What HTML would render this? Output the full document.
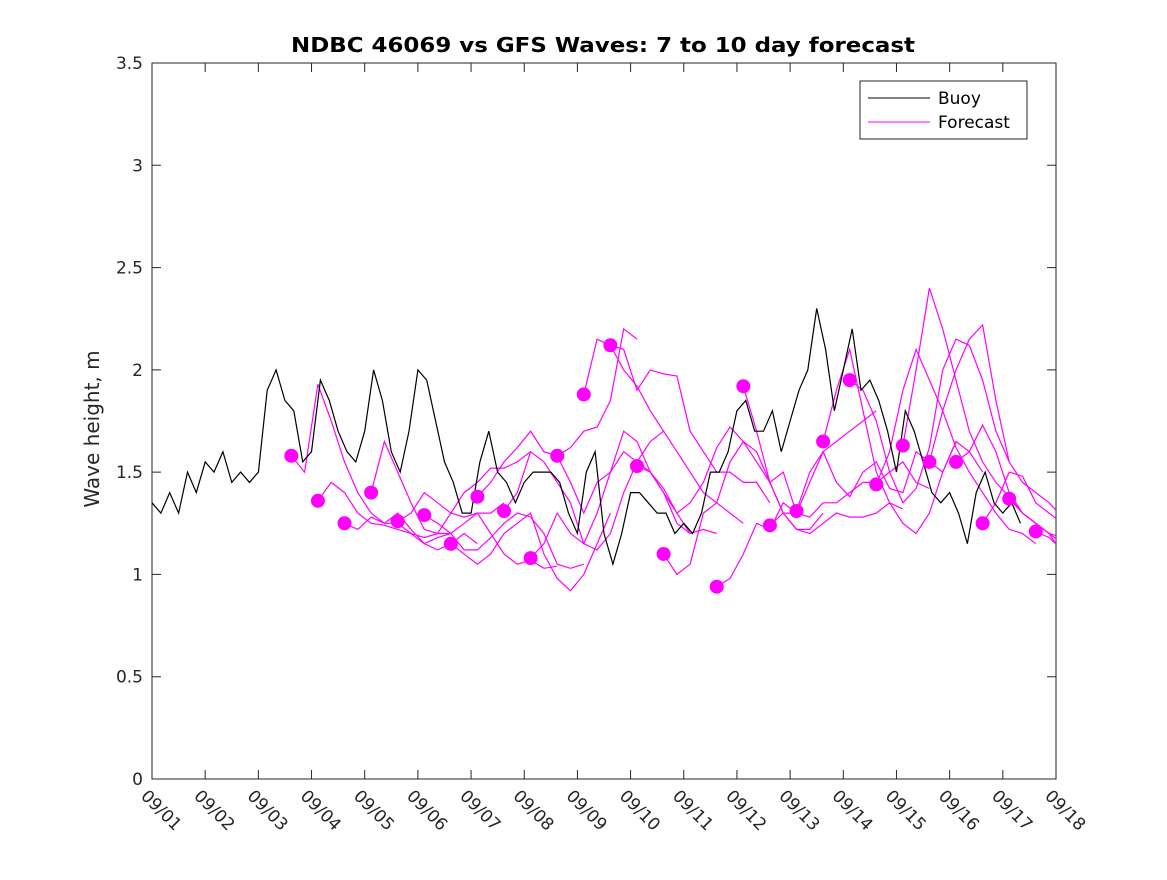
<!DOCTYPE html>
<html><head><meta charset="utf-8"><style>
body{margin:0;background:#fff}
svg{font-family:"DejaVu Sans","Liberation Sans",sans-serif}
</style></head><body>
<svg id="chart" width="1167" height="875" viewBox="0 0 1167 875" xmlns="http://www.w3.org/2000/svg">
<rect width="1167" height="875" fill="#fff"/>
<text x="603" y="52" text-anchor="middle" font-size="20" font-weight="bold" textLength="624" lengthAdjust="spacingAndGlyphs">NDBC 46069 vs GFS Waves: 7 to 10 day forecast</text>
<text transform="translate(99,429) rotate(-90)" text-anchor="middle" font-size="20" fill="#262626">Wave height, m</text>
<defs><clipPath id="plotclip"><rect x="152" y="63" width="904" height="716"/></clipPath></defs>
<g id="axes"></g>
<g id="series" clip-path="url(#plotclip)"></g>
<g>
<rect x="860" y="81" width="167" height="58" fill="#fff" stroke="#262626" stroke-width="1"/>
<line x1="868" y1="98" x2="930" y2="98" stroke="#000"/>
<text x="938" y="104" font-size="17">Buoy</text>
<line x1="868" y1="122" x2="930" y2="122" stroke="#f0f"/>
<text x="938" y="128" font-size="17">Forecast</text>
</g>
</svg>
<script>
const xTickLabels=["09/01","09/02","09/03","09/04","09/05","09/06","09/07","09/08","09/09","09/10","09/11","09/12","09/13","09/14","09/15","09/16","09/17","09/18"];
const yTicks=[0,0.5,1,1.5,2,2.5,3,3.5];
const yTickLabels=["0","0.5","1","1.5","2","2.5","3","3.5"];
// buoy values every 4 hours starting 09/01 00:00
const buoyStepDays=1/6;
const buoyValues=[1.35,1.3,1.4,1.3,1.5,1.4,1.55,1.5,1.6,1.45,1.5,1.45,1.5,1.9,2.0,1.85,1.8,1.55,1.6,1.95,1.85,1.7,1.6,1.55,1.7,2.0,1.85,1.6,1.5,1.7,2.0,1.95,1.75,1.55,1.45,1.3,1.3,1.55,1.7,1.5,1.45,1.35,1.45,1.5,1.5,1.5,1.45,1.3,1.2,1.5,1.6,1.2,1.05,1.2,1.4,1.4,1.35,1.3,1.3,1.2,1.25,1.2,1.3,1.5,1.5,1.6,1.8,1.85,1.7,1.7,1.8,1.6,1.75,1.9,2.0,2.3,2.1,1.8,2.0,2.2,1.9,1.95,1.85,1.7,1.5,1.8,1.7,1.55,1.4,1.35,1.4,1.3,1.15,1.4,1.5,1.35,1.3,1.35,1.25];
// forecast start times (days since 09/01) and 6-hourly values
const forecastStartDay=2.62;
const forecastSpacing=0.5;
const forecastStepDays=0.25;
const forecasts=[
[1.58,1.5,1.93,1.75,1.55,1.4,1.3,1.25,1.25,1.2,1.18,1.2,1.2],
[1.36,1.45,1.4,1.3,1.25,1.24,1.22,1.2,1.15,1.12,1.15,1.2,1.15],
[1.25,1.22,1.28,1.25,1.3,1.22,1.15,1.18,1.2,1.25,1.3,1.3,1.35],
[1.40,1.65,1.5,1.35,1.22,1.2,1.3,1.4,1.45,1.52,1.52,1.55,1.6],
[1.26,1.3,1.4,1.35,1.3,1.28,1.3,1.2,1.1,1.05,1.07,1.03,1.04],
[1.29,1.25,1.2,1.12,1.12,1.18,1.25,1.3,1.28,1.2,1.05,1.03,1.05],
[1.15,1.1,1.05,1.1,1.2,1.25,1.3,1.1,0.98,0.92,1.0,1.15,1.3],
[1.38,1.45,1.55,1.62,1.7,1.6,1.58,1.62,1.7,1.72,1.85,2.2,2.15],
[1.31,1.4,1.6,1.55,1.45,1.35,1.15,1.12,1.2,1.4,1.55,1.65,1.7],
[1.08,1.15,1.3,1.2,1.15,1.3,1.5,1.7,1.65,1.5,1.4,1.3,1.2],
[1.58,1.45,1.3,1.45,1.5,1.6,1.55,1.5,1.4,1.25,1.2,1.22,1.2],
[1.88,2.15,2.12,2.0,1.92,1.8,1.7,1.6,1.5,1.4,1.35,1.3,1.25],
[2.12,2.1,1.9,2.0,1.98,1.97,1.7,1.6,1.5,1.5,1.45,1.45,1.35],
[1.53,1.5,1.42,1.3,1.35,1.45,1.62,1.72,1.65,1.55,1.45,1.5,1.3],
[1.10,1.0,1.05,1.3,1.35,1.55,1.65,1.6,1.45,1.3,1.22,1.22,1.3],
null,
[0.94,0.98,1.1,1.25,1.22,1.35,1.3,1.45,1.6,1.65,1.7,1.75,1.8],
[1.92,1.7,1.45,1.3,1.22,1.2,1.25,1.3,1.28,1.28,1.3,1.35,1.32],
[1.24,1.3,1.3,1.28,1.35,1.35,1.4,1.45,1.45,1.5,1.55,1.45,1.42],
[1.31,1.5,1.6,1.45,1.38,1.5,1.55,1.42,1.4,1.6,1.55,1.5,1.65],
[1.65,1.9,2.1,1.8,1.5,1.35,1.25,1.2,1.3,1.5,1.65,1.6,1.5],
[1.95,1.9,1.75,1.5,1.35,1.42,1.62,2.0,2.15,2.12,1.95,1.7,1.55],
[1.44,1.6,1.9,2.1,1.95,1.8,1.62,1.5,1.4,1.3,1.22,1.2,1.15],
[1.63,2.0,2.4,2.2,1.95,1.7,1.55,1.45,1.38,1.3,1.25,1.2,1.15],
[1.55,1.8,2.0,2.15,2.22,1.85,1.55,1.45,1.4,1.35,1.28,1.22,1.12],
[1.55,1.6,1.73,1.6,1.4,1.3,1.25,1.2,1.18,1.15,1.12,1.1,1.08],
[1.25,1.35,1.5,1.48,1.35,1.3,1.25,1.15,1.1,1.08,1.1,1.08,1.07],
[1.37,1.3,1.25,1.2,1.1,1.08],
[1.21,1.18,1.12,1.1]
];
const X0=152,X1=1056,Y0=779,Y1=63;
const xs=d=>X0+(X1-X0)*d/17;
const ys=v=>Y0-(Y0-Y1)*v/3.5;
const NS="http://www.w3.org/2000/svg";
function mk(tag,parent){const e=document.createElementNS(NS,tag);parent.appendChild(e);return e;}
const axes=document.getElementById('axes');
const series=document.getElementById('series');
const frame=mk('rect',axes);


frame.setAttribute('x',X0);frame.setAttribute('y',Y1);frame.setAttribute('width',X1-X0);frame.setAttribute('height',Y0-Y1);
frame.setAttribute('fill','none');frame.setAttribute('stroke','#262626');
yTicks.forEach((v,i)=>{
 const y=ys(v);
 const t=mk('path',axes);
 
 
 t.setAttribute('d',`M${X0} ${y}h9M${X1} ${y}h-9`);t.setAttribute('stroke','#262626');
 const l=mk('text',axes);
 
 
 l.setAttribute('x',X0-9);l.setAttribute('y',y+6);l.setAttribute('text-anchor','end');l.setAttribute('font-size','17');l.setAttribute('fill','#262626');
 l.textContent=yTickLabels[i];
});
xTickLabels.forEach((s,i)=>{
 const x=xs(i);
 const t=mk('path',axes);
 
 
 t.setAttribute('d',`M${x} ${Y0}v-9M${x} ${Y1}v9`);t.setAttribute('stroke','#262626');
 const l=mk('text',axes);
 
 
 l.setAttribute('transform',`translate(${x-12},${Y0+18}) rotate(45)`);l.setAttribute('font-size','17');l.setAttribute('fill','#262626');
 l.textContent=s;
});
forecasts.forEach((f,k)=>{
 if(!f)return;
 const d0=forecastStartDay+k*forecastSpacing;
 const p=mk('polyline',series);
 
 
 p.setAttribute('points',f.map((v,j)=>xs(d0+j*forecastStepDays).toFixed(1)+','+ys(v).toFixed(1)).join(' '));
 p.setAttribute('fill','none');p.setAttribute('stroke','#f0f');p.setAttribute('stroke-width','1.2');
});
const b=mk('polyline',series);


b.setAttribute('points',buoyValues.map((v,i)=>xs(i*buoyStepDays).toFixed(1)+','+ys(v).toFixed(1)).join(' '));
b.setAttribute('fill','none');b.setAttribute('stroke','#000');b.setAttribute('stroke-width','1.2');
forecasts.forEach((f,k)=>{
 if(!f)return;
 const d0=forecastStartDay+k*forecastSpacing;
 const c=mk('circle',series);
 
 
 c.setAttribute('cx',xs(d0));c.setAttribute('cy',ys(f[0]));c.setAttribute('r','7');c.setAttribute('fill','#f0f');
});
</script>
</body></html>
